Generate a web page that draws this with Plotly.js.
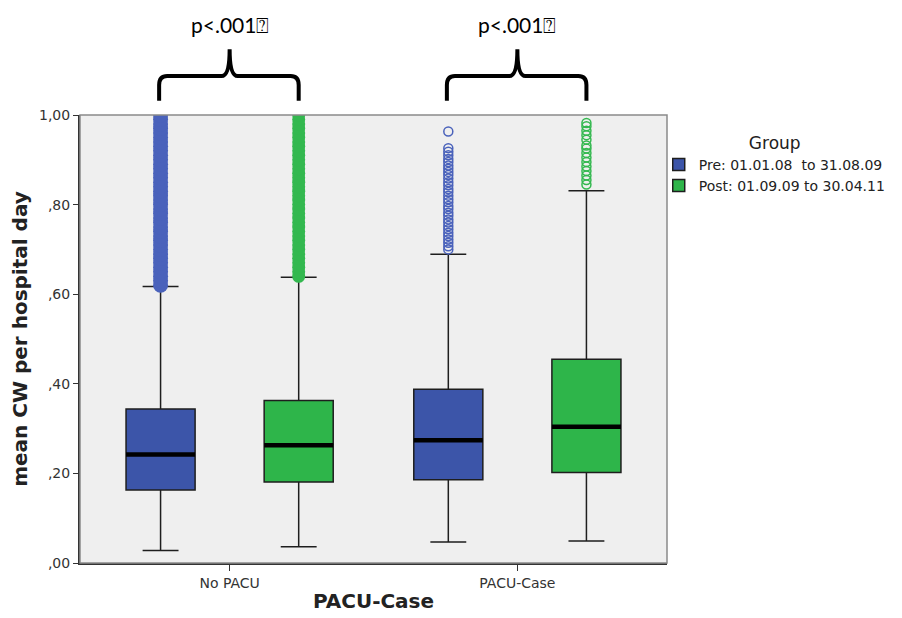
<!DOCTYPE html>
<html>
<head>
<meta charset="utf-8">
<script src="https://cdn.plot.ly/plotly-3.0.1.min.js"></script>
<style>html,body{margin:0;padding:0;background:#fff;}#chart{width:902px;height:618px;}</style>
</head>
<body>
<div id="chart"></div>
<script>
// ---- data ----
const categories = ['No PACU', 'PACU-Case'];
const groupNames = ['Pre: 01.01.08\u00a0 to 31.08.09', 'Post: 01.09.09 to 30.04.11'];

const preQ1  = [0.163, 0.186];
const preMed = [0.242, 0.274];
const preQ3  = [0.344, 0.388];
const preLo  = [0.028, 0.047];
const preHi  = [0.617, 0.689];

const postQ1  = [0.181, 0.202];
const postMed = [0.263, 0.304];
const postQ3  = [0.363, 0.455];
const postLo  = [0.036, 0.049];
const postHi  = [0.638, 0.831];

const preOutNoPacu = [0.62,0.63,0.64,0.65,0.66,0.67,0.68,0.69,0.70,0.71,0.72,0.73,0.74,0.75,0.76,0.77,0.78,0.79,0.80,0.81,0.82,0.83,0.84,0.85,0.86,0.87,0.88,0.89,0.90,0.91,0.92,0.93,0.94,0.95,0.96,0.97,0.98,0.99,1.00];
const preOutPacu = [0.963,0.926,0.918,0.910,0.902,0.895,0.887,0.880,0.873,0.866,0.858,0.850,0.843,0.835,0.828,0.820,0.812,0.805,0.797,0.790,0.782,0.775,0.767,0.760,0.752,0.745,0.737,0.730,0.722,0.715,0.707,0.700];
const postOutNoPacu = [0.64,0.65,0.66,0.67,0.68,0.69,0.70,0.71,0.72,0.73,0.74,0.75,0.76,0.77,0.78,0.79,0.80,0.81,0.82,0.83,0.84,0.85,0.86,0.87,0.88,0.89,0.90,0.91,0.92,0.93,0.94,0.95,0.96,0.97,0.98,0.99,1.00];
const postOutPacu = [0.982,0.975,0.965,0.955,0.945,0.932,0.925,0.915,0.905,0.895,0.885,0.875,0.865,0.855,0.845];

const yTickVals = [0, 0.2, 0.4, 0.6, 0.8, 1.0];
const yTickText = [',00', ',20', ',40', ',60', ',80', '1,00'];

const pValueText = 'p<.001\u2370';

// ---- styling ----
const fills = ['#3c55a9', '#2eb54a'];
const pointColors = ['#4a62bb', '#33b84f'];
const denseSizes = [15, 13];

const groups = [
  {q1: preQ1, med: preMed, q3: preQ3, lo: preLo, hi: preHi, out: [preOutNoPacu, preOutPacu]},
  {q1: postQ1, med: postMed, q3: postQ3, lo: postLo, hi: postHi, out: [postOutNoPacu, postOutPacu]}
];

const traces = [];
groups.forEach((g, gi) => {
  categories.forEach((cat, ci) => {
    const dense = ci === 0;
    traces.push({
      type: 'box',
      name: groupNames[gi],
      x: [cat],
      q1: [g.q1[ci]], median: [g.med[ci]], q3: [g.q3[ci]],
      lowerfence: [g.lo[ci]], upperfence: [g.hi[ci]],
      y: [g.out[ci]],
      boxpoints: 'all', jitter: 0, pointpos: 0,
      offsetgroup: 'g' + gi, alignmentgroup: 'a', legendgroup: 'g' + gi,
      showlegend: ci === 0,
      fillcolor: fills[gi],
      line: {color: '#1e1e1e', width: 1.5},
      whiskerwidth: 0.52,
      marker: dense ? {symbol: 'circle', size: denseSizes[gi], color: pointColors[gi], opacity: 1}
                    : {symbol: 'circle-open', size: 9, color: pointColors[gi], opacity: 1, line: {width: 1.5, color: pointColors[gi]}},
      hoverinfo: 'skip'
    });
  });
});
// thick median lines drawn as zero-height boxes on top
groups.forEach((g, gi) => {
  traces.push({
    type: 'box',
    name: groupNames[gi] + ' median',
    x: categories,
    q1: g.med, median: g.med, q3: g.med, lowerfence: g.med, upperfence: g.med,
    offsetgroup: 'g' + gi, alignmentgroup: 'a',
    showlegend: false,
    boxpoints: false,
    fillcolor: 'rgba(0,0,0,0)',
    line: {color: '#000', width: 4.5},
    whiskerwidth: 0,
    hoverinfo: 'skip'
  });
});

function bracePath(center) {
  const x0 = center - 0.245, x1 = center + 0.24, r = 0.028;
  const yb = 1.032, yh = 1.087, yt = 1.147, ry = 0.02;
  return `M ${x0},${yb} L ${x0},${yh - ry} Q ${x0},${yh} ${x0 + r},${yh} ` +
         `L ${center - r},${yh} Q ${center},${yh} ${center},${yt} ` +
         `Q ${center},${yh} ${center + r},${yh} L ${x1 - r},${yh} ` +
         `Q ${x1},${yh} ${x1},${yh - ry} L ${x1},${yb}`;
}

const layout = {
  width: 902, height: 618,
  margin: {l: 80, r: 235, t: 115, b: 55, autoexpand: false},
  paper_bgcolor: '#ffffff',
  plot_bgcolor: '#efefef',
  boxmode: 'group', boxgap: 0.04, boxgroupgap: 0.5,
  font: {family: 'DejaVu Sans', color: '#333'},
  xaxis: {
    type: 'category', categoryorder: 'array', categoryarray: categories,
    range: [-0.52, 1.52],
    showline: true, linecolor: '#333', linewidth: 2,
    ticks: 'outside', ticklen: 6, tickcolor: '#333', tickwidth: 1,
    tickfont: {family: 'DejaVu Sans', size: 14, color: '#333'},
    showgrid: false, zeroline: false, automargin: false,
    title: {text: 'PACU-Case', font: {family: 'DejaVu Sans', size: 20, color: '#222', weight: 'bold'}, standoff: 4}
  },
  yaxis: {
    range: [0, 1],
    tickvals: yTickVals, ticktext: yTickText,
    showline: true, linecolor: '#333', linewidth: 2,
    ticks: 'outside', ticklen: 5, tickcolor: '#333', tickwidth: 1,
    tickfont: {family: 'DejaVu Sans', size: 14, color: '#333'},
    showgrid: false, zeroline: false, automargin: false,
    title: {text: 'mean CW per hospital day', font: {family: 'DejaVu Sans', size: 20, color: '#222', weight: 'bold'}, standoff: 6}
  },
  legend: {
    xref: 'container', yref: 'container',
    x: 0.7303, y: 0.795, xanchor: 'left', yanchor: 'top',
    bgcolor: 'rgba(0,0,0,0)',
    font: {family: 'DejaVu Sans', size: 14, color: '#222'},
    title: {text: 'Group', side: 'top center', font: {family: 'DejaVu Sans', size: 17, color: '#222'}},
    traceorder: 'normal', tracegroupgap: 0, itemwidth: 30
  },
  annotations: [0, 1].map(c => ({
    xref: 'x', yref: 'paper', x: c, y: 1.201, text: pValueText, showarrow: false,
    font: {family: 'Lato', size: 21, color: '#000'}, xanchor: 'center', yanchor: 'middle'
  })),
  shapes: [
    {type: 'rect', xref: 'paper', yref: 'paper', x0: 0, x1: 1, y0: 0, y1: 1,
     line: {color: '#8a8a8a', width: 1.5}, fillcolor: 'rgba(0,0,0,0)', layer: 'above'},
    {type: 'path', xref: 'x', yref: 'paper', path: bracePath(0), line: {color: '#000', width: 4}},
    {type: 'path', xref: 'x', yref: 'paper', path: bracePath(1), line: {color: '#000', width: 4}}
  ]
};

Plotly.newPlot('chart', traces, layout, {displayModeBar: false, staticPlot: true});
</script>
</body>
</html>
